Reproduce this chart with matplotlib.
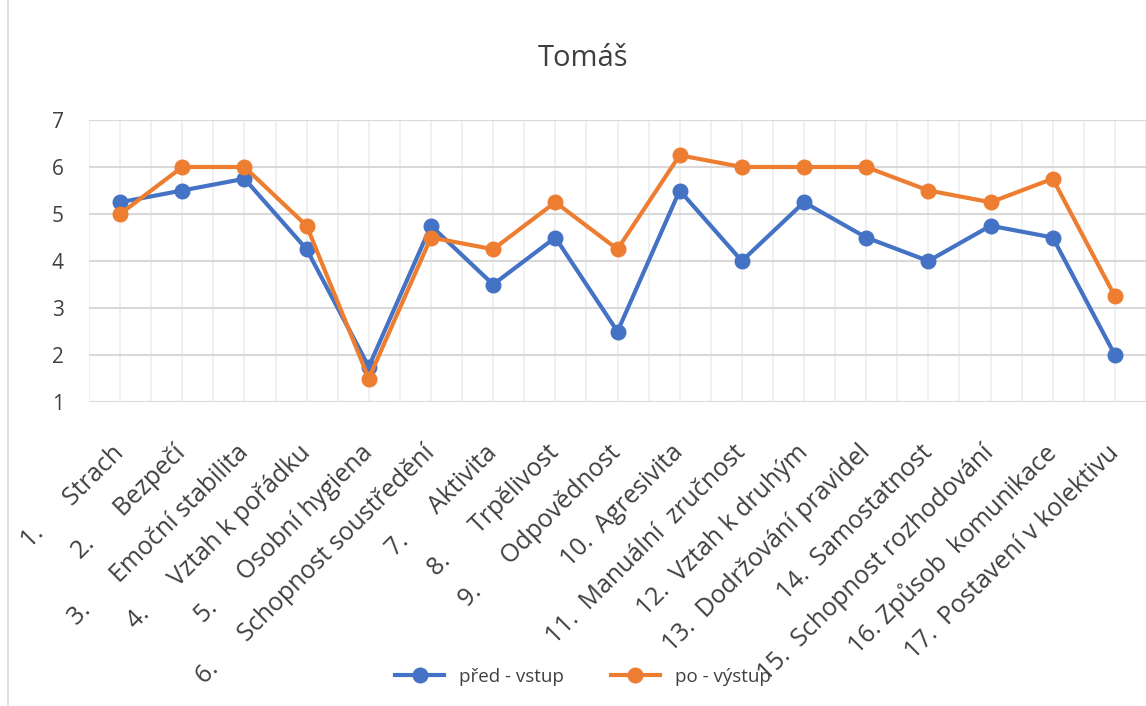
import matplotlib.pyplot as plt
import numpy as np

plt.rcParams['font.family'] = ['Open Sans', 'DejaVu Sans']

categories = [
    "1.      Strach",
    "2.      Bezpečí",
    "3.      Emoční stabilita",
    "4.      Vztah k pořádku",
    "5.      Osobní hygiena",
    "6.      Schopnost soustředění",
    "7.      Aktivita",
    "8.      Trpělivost",
    "9.      Odpovědnost",
    "10.  Agresivita",
    "11.  Manuální  zručnost",
    "12.  Vztah k druhým",
    "13.  Dodržování pravidel",
    "14.  Samostatnost",
    "15.  Schopnost rozhodování",
    "16. Způsob  komunikace",
    "17.  Postavení v kolektivu",
]
pred = [5.25, 5.5, 5.75, 4.25, 1.75, 4.75, 3.5, 4.5, 2.5, 5.5, 4, 5.25, 4.5, 4, 4.75, 4.5, 2]
po = [5, 6, 6, 4.75, 1.5, 4.5, 4.25, 5.25, 4.25, 6.25, 6, 6, 6, 5.5, 5.25, 5.75, 3.25]

W, H = 1146, 706
fig = plt.figure(figsize=(W / 100, H / 100), dpi=100)
ax = fig.add_axes([89 / W, 304 / H, 1057 / W, 282 / H])

x = np.arange(len(categories))
ax.plot(x, pred, color='#4472C4', lw=3, marker='o', ms=10.5, label='před - vstup', zorder=3)
ax.plot(x, po, color='#ED7D31', lw=3, marker='o', ms=10.5, label='po - výstup', zorder=3)

ax.set_xlim(-0.5, len(categories) - 0.5)
ax.set_ylim(1, 7)
ax.set_yticks(range(1, 8))
ax.set_xticks(x)
ax.set_xticks(np.arange(-0.5, len(categories), 1.0), minor=True)
ax.set_xticklabels(categories, rotation=45, ha='right', va='center',
                   rotation_mode='anchor', fontsize=18, color='#404040')
ax.tick_params(axis='x', which='both', length=0, pad=34)
ax.tick_params(axis='y', length=0, pad=18, labelsize=15, labelcolor='#404040')

ax.grid(axis='y', color='#D9D9D9', lw=1.5)
ax.grid(axis='x', which='both', color='#EEEEEE', lw=1.2)
for s in ax.spines.values():
    s.set_visible(False)

fig.text(583 / W, 1 - 59 / H, 'Tomáš', ha='center', va='center', fontsize=21, color='#404040')
fig.legend(loc='center', bbox_to_anchor=(583 / W, 1 - 677 / H), ncol=2, frameon=False,
           fontsize=13.5, handlelength=2.6, columnspacing=2.5, labelcolor='#404040')
fig.add_artist(plt.Line2D([8 / W, 8 / W], [0, 1], color='#D9D9D9', lw=1.2))

fig.savefig('out.png', dpi=100)
